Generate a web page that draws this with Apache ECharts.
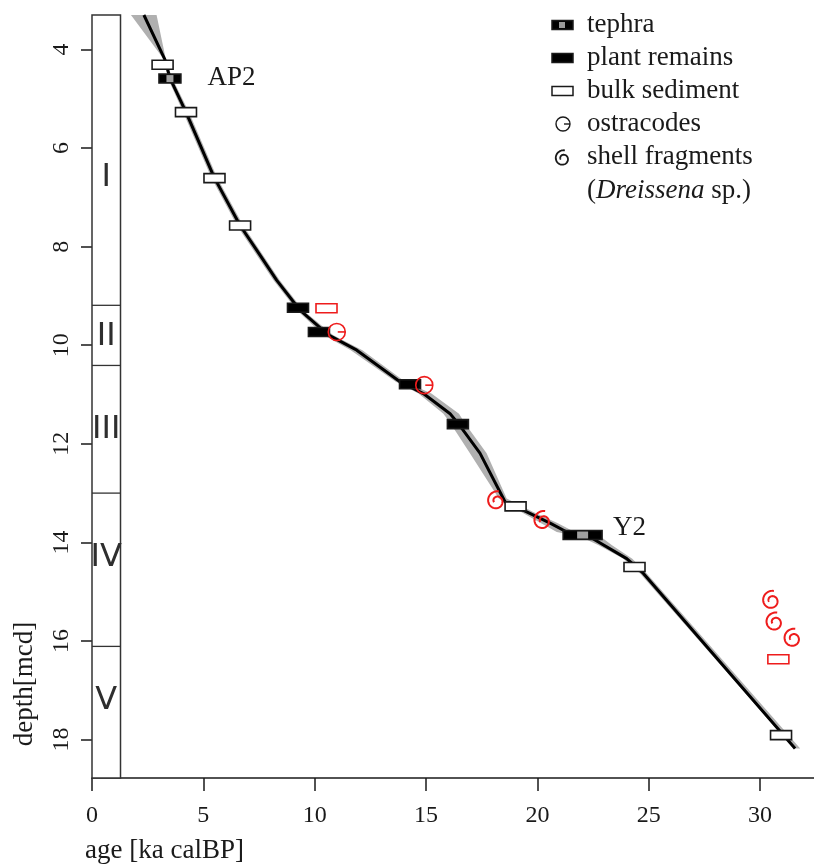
<!DOCTYPE html>
<html><head><meta charset="utf-8">
<script src="https://cdn.jsdelivr.net/npm/echarts@6/dist/echarts.min.js"></script>
<style>html,body{margin:0;padding:0;background:#fff}#c{width:814px;height:864px}</style>
</head><body><div id="c"></div>
<script>
// ---------- data ----------
const xTicks = [0, 5, 10, 15, 20, 25, 30];
const yTicks = [4, 6, 8, 10, 12, 14, 16, 18];

// age-depth model (median)
const curveAge   = [2.33, 3.28, 3.50, 4.22, 5.48, 6.65, 7.41, 8.29, 9.34, 10.61, 11.89, 13.83, 14.88, 16.08, 16.45, 17.42, 18.47, 18.55, 19.52, 20.57, 21.32, 22.36, 24.01, 24.76, 31.57];
const curveDepth = [3.30, 4.21, 4.58, 5.27, 6.59, 7.57, 8.08, 8.68, 9.29, 9.79, 10.10, 10.74, 10.98, 11.39, 11.59, 12.19, 13.11, 13.18, 13.38, 13.61, 13.79, 13.89, 14.33, 14.63, 18.18];

// confidence envelope
const bandDepth = [3.30, 4.21, 4.58, 5.27, 6.59, 7.57, 8.68, 9.29, 9.79, 10.10, 10.74, 10.98, 11.39, 11.59, 12.19, 13.11, 13.38, 13.61, 13.79, 13.89, 14.06, 14.33, 14.63, 18.18];
const bandLow   = [1.75, 3.24, 3.40, 4.09, 5.35, 6.51, 8.15, 9.20, 10.40, 11.62, 13.64, 14.66, 15.78, 16.10, 16.97, 18.27, 19.25, 20.17, 20.87, 21.96, 22.75, 23.86, 24.61, 31.52];
const bandHigh  = [2.90, 3.32, 3.60, 4.35, 5.61, 6.79, 8.43, 9.48, 10.82, 12.14, 14.06, 15.24, 16.48, 16.75, 17.72, 18.62, 19.79, 20.92, 21.67, 22.86, 23.35, 24.26, 24.91, 31.80];

// dated samples
const bulkAge   = [3.17, 4.22, 5.50, 6.65, 19.02, 24.36, 30.94];
const bulkDepth = [4.31, 5.27, 6.61, 7.57, 13.27, 14.50, 17.91];
const plantAge   = [9.25, 10.19, 14.28, 16.43];
const plantDepth = [9.24, 9.73, 10.79, 11.60];
const tephraAge   = [3.50, 22.03];
const tephraDepth = [4.59, 13.85];
const tephraName  = ['AP2', 'Y2'];
const ostracodAge   = [10.99, 14.92];
const ostracodDepth = [9.73, 10.81];
const shellAge   = [18.17, 20.25, 30.52, 30.67, 31.48];
const shellDepth = [13.15, 13.55, 15.17, 15.61, 15.94];
const rejectedAge   = [10.53, 30.82];
const rejectedDepth = [9.25, 16.37];

// lithological units
const zoneNames = ['I', 'II', 'III', 'IV', 'V'];
const zoneBounds = [9.19, 10.41, 13.00, 16.11];
const zoneLabelDepth = [6.61, 9.82, 11.72, 14.32, 17.22];
const tephraLabelAge = [6.26, 24.14];
const tephraLabelDepth = [4.58, 13.71];

// ---------- style constants ----------
const X_MIN = 0, X_MAX = 32.42, Y_MIN = 3.30, Y_MAX = 18.78;
const COL_W = 1.28;
const INK = '#1a1a1a';
const SERIF = 'Liberation Serif';
const RED = '#ee1c1c';
const tephraWidthPx = [22, 39];
const tephraGreyPx = [7, 11];

function zip(a, b) { return a.map((v, i) => [v, b[i]]); }

function spiralPoints(cx, cy, R) {
  const pts = [];
  const N = 70, turns = 1.35;
  for (let i = 0; i <= N; i++) {
    const t = i / N;
    const phi = -1.35 - t * turns * 2 * Math.PI;
    const r = R * (1 - 0.72 * t);
    pts.push([cx + r * Math.cos(phi), cy + 0.6 + r * Math.sin(phi)]);
  }
  return pts;
}

function rectRender(fill, stroke, w, h) {
  return function (params, api) {
    const p = api.coord([api.value(0), api.value(1)]);
    return { type: 'rect', shape: { x: p[0] - w / 2, y: p[1] - h / 2, width: w, height: h },
      style: { fill: fill, stroke: stroke, lineWidth: 1.6 } };
  };
}

const chart = echarts.init(document.getElementById('c'), null, { renderer: 'canvas' });

const legendY = [25, 58, 91, 124, 157, 191];
const LX = 562, TX = 587;
function legRect(cy, fill, grey) {
  const els = [{ type: 'rect', shape: { x: LX - 10, y: cy - 4.5, width: 21, height: 9 },
    style: { fill: fill, stroke: INK, lineWidth: 1.5 } }];
  if (grey) els.push({ type: 'rect', shape: { x: LX - 3, y: cy - 3, width: 6, height: 6 }, style: { fill: '#9a9a9a' } });
  return els;
}

const option = {
  animation: false,
  backgroundColor: '#fff',
  grid: { left: 92, right: 0, top: 15, bottom: 86, containLabel: false, outerBoundsMode: 'none' },
  xAxis: {
    type: 'value', min: X_MIN, max: X_MAX,
    axisLine: { show: true, onZero: false, lineStyle: { color: INK, width: 1.5 } },
    axisTick: { show: true, length: 13, customValues: xTicks, lineStyle: { color: INK, width: 1.5 } },
    axisLabel: { customValues: xTicks, fontFamily: SERIF, fontSize: 24, color: INK, margin: 26 },
    splitLine: { show: false }
  },
  yAxis: {
    type: 'value', inverse: true, min: Y_MIN, max: Y_MAX,
    axisLine: { show: false },
    axisTick: { show: true, length: 11, customValues: yTicks, lineStyle: { color: INK, width: 1.5 } },
    axisLabel: { customValues: yTicks, rotate: 90, fontFamily: SERIF, fontSize: 24, color: INK, margin: 18 },
    splitLine: { show: false }
  },
  series: [
    { // lithology column
      type: 'custom', data: [[0]], silent: true, z: 1,
      renderItem: function (params, api) {
        const a = api.coord([0, Y_MIN]), b = api.coord([COL_W, Y_MAX]);
        const children = [{ type: 'rect', shape: { x: a[0], y: a[1], width: b[0] - a[0], height: b[1] - a[1] },
          style: { fill: '#fff', stroke: '#333', lineWidth: 1.5 } }];
        zoneBounds.forEach(d => {
          const p = api.coord([0, d]), q = api.coord([COL_W, d]);
          children.push({ type: 'line', shape: { x1: p[0], y1: p[1], x2: q[0], y2: q[1] }, style: { stroke: '#333', lineWidth: 1.3 } });
        });
        zoneNames.forEach((n, i) => {
          const p = api.coord([COL_W / 2, zoneLabelDepth[i]]);
          children.push({ type: 'text', x: p[0], y: p[1], style: { text: n, fontFamily: 'DejaVu Sans', fontSize: 32,
            fill: '#2e2e2e', align: 'center', verticalAlign: 'middle' } });
        });
        return { type: 'group', children: children };
      }
    },
    { // envelope
      type: 'custom', data: [[0]], silent: true, z: 2,
      renderItem: function (params, api) {
        const pts = [];
        for (let i = 0; i < bandDepth.length; i++) pts.push(api.coord([bandLow[i], bandDepth[i]]));
        for (let i = bandDepth.length - 1; i >= 0; i--) pts.push(api.coord([bandHigh[i], bandDepth[i]]));
        return { type: 'polygon', shape: { points: pts }, style: { fill: '#b0b0b0' } };
      }
    },
    { // median
      type: 'line', data: zip(curveAge, curveDepth), symbol: 'none', z: 3, silent: true,
      lineStyle: { color: '#000', width: 3 }
    },
    { type: 'custom', z: 4, data: zip(bulkAge, bulkDepth), renderItem: rectRender('#fff', INK, 21, 9) },
    { type: 'custom', z: 4, data: zip(plantAge, plantDepth), renderItem: rectRender('#000', INK, 21, 9) },
    { type: 'custom', z: 4, data: zip(rejectedAge, rejectedDepth), renderItem: rectRender('#fff', RED, 21, 9) },
    { type: 'custom', z: 4, data: zip(tephraAge, tephraDepth),
      renderItem: function (params, api) {
        const p = api.coord([api.value(0), api.value(1)]);
        const w = tephraWidthPx[params.dataIndex], g = tephraGreyPx[params.dataIndex];
        return { type: 'group', children: [
          { type: 'rect', shape: { x: p[0] - w / 2, y: p[1] - 4.5, width: w, height: 9 }, style: { fill: '#000', stroke: INK, lineWidth: 1.5 } },
          { type: 'rect', shape: { x: p[0] - g / 2, y: p[1] - 3.5, width: g, height: 7 }, style: { fill: '#a0a0a0' } }
        ] };
      }
    },
    { type: 'custom', z: 5, data: zip(ostracodAge, ostracodDepth),
      renderItem: function (params, api) {
        const p = api.coord([api.value(0), api.value(1)]);
        return { type: 'group', children: [
          { type: 'circle', shape: { cx: p[0], cy: p[1], r: 8.5 }, style: { fill: 'none', stroke: RED, lineWidth: 1.6 } },
          { type: 'line', shape: { x1: p[0] + 1, y1: p[1], x2: p[0] + 8.5, y2: p[1] }, style: { stroke: RED, lineWidth: 1.6 } }
        ] };
      }
    },
    { type: 'custom', z: 5, data: zip(shellAge, shellDepth),
      renderItem: function (params, api) {
        const p = api.coord([api.value(0), api.value(1)]);
        return { type: 'polyline', shape: { points: spiralPoints(p[0], p[1], 10) }, style: { fill: 'none', stroke: RED, lineWidth: 2 } };
      }
    },
    { type: 'custom', z: 5, data: tephraLabelAge.map((a, i) => [a, tephraLabelDepth[i], tephraName[i]]),
      renderItem: function (params, api) {
        const p = api.coord([api.value(0), api.value(1)]);
        return { type: 'text', x: p[0], y: p[1], style: { text: tephraName[params.dataIndex], fontFamily: SERIF, fontSize: 27,
          fill: INK, align: 'center', verticalAlign: 'middle' } };
      }
    }
  ],
  graphic: [
    { type: 'text', x: 25, y: 684, rotation: Math.PI / 2,
      style: { text: 'depth[mcd]', fontFamily: SERIF, fontSize: 27, fill: INK, align: 'center', verticalAlign: 'middle' } },
    { type: 'text', x: 85, y: 851,
      style: { text: 'age [ka calBP]', fontFamily: SERIF, fontSize: 27, fill: INK, align: 'left', verticalAlign: 'middle' } },
    { type: 'group', children: [].concat(
      legRect(legendY[0], '#000', true),
      legRect(legendY[1], '#000', false),
      legRect(legendY[2], '#fff', false),
      [
        { type: 'circle', shape: { cx: LX + 1, cy: legendY[3], r: 7 }, style: { fill: 'none', stroke: INK, lineWidth: 1.4 } },
        { type: 'line', shape: { x1: LX + 2, y1: legendY[3], x2: LX + 8, y2: legendY[3] }, style: { stroke: INK, lineWidth: 1.4 } },
        { type: 'polyline', shape: { points: spiralPoints(LX + 1, legendY[4] + 1, 8.5) }, style: { fill: 'none', stroke: INK, lineWidth: 1.8 } }
      ],
      ['tephra', 'plant remains', 'bulk sediment', 'ostracodes', 'shell fragments'].map((t, i) => ({
        type: 'text', x: TX, y: legendY[i],
        style: { text: t, fontFamily: SERIF, fontSize: 27, fill: INK, align: 'left', verticalAlign: 'middle' } })),
      [{ type: 'text', x: TX, y: legendY[5],
        style: { text: '({i|Dreissena} sp.)', fontFamily: SERIF, fontSize: 27, fill: INK, align: 'left', verticalAlign: 'middle',
          rich: { i: { fontFamily: SERIF, fontSize: 27, fontStyle: 'italic', fill: INK } } } }]
    ) }
  ]
};
chart.setOption(option);
</script>
</body></html>
